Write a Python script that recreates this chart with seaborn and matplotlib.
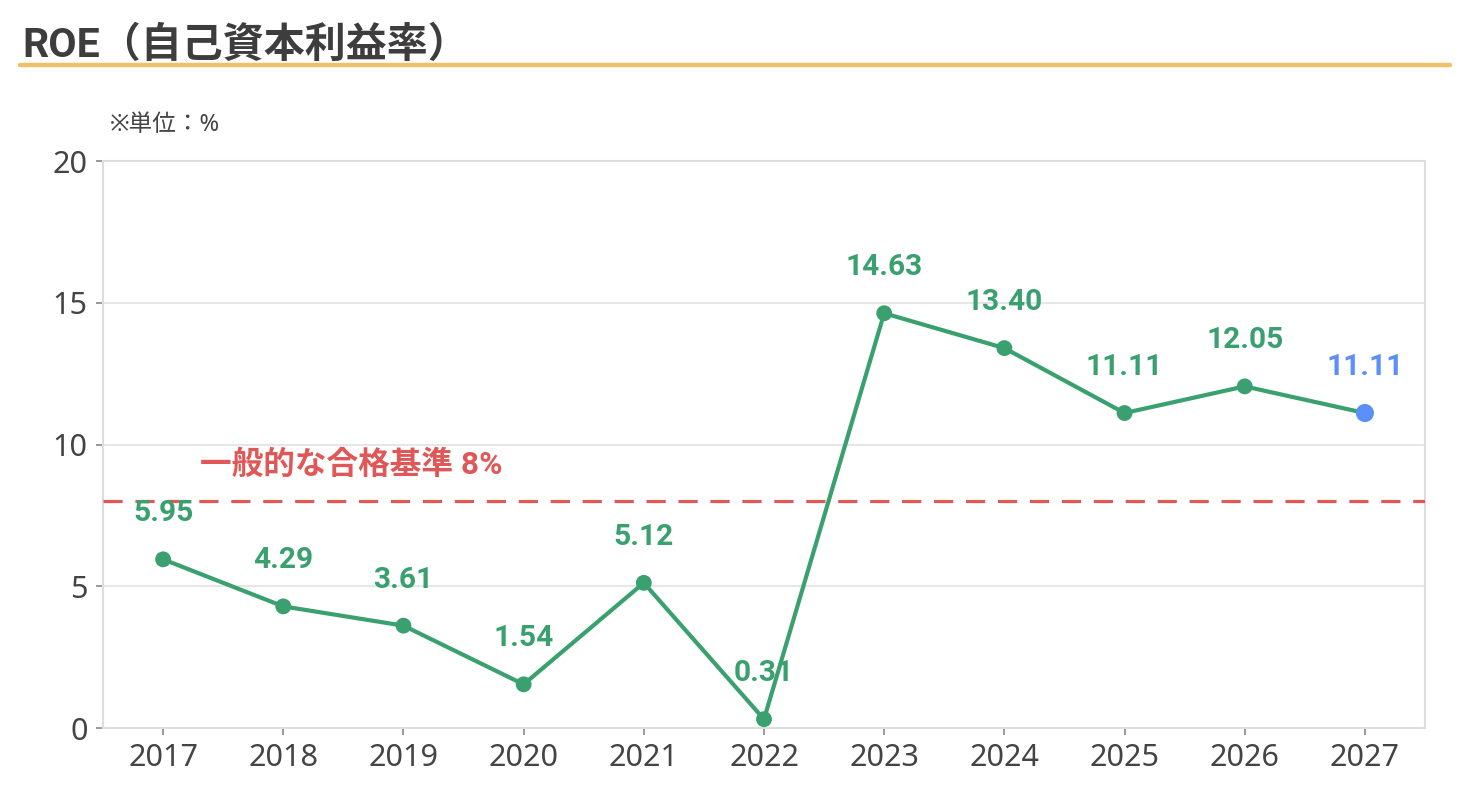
import matplotlib
matplotlib.use("Agg")
import matplotlib.pyplot as plt
import seaborn as sns
import pandas as pd

years = ["2017", "2018", "2019", "2020", "2021", "2022", "2023", "2024", "2025", "2026", "2027"]
roe = [5.95, 4.29, 3.61, 1.54, 5.12, 0.31, 14.63, 13.40, 11.11, 12.05, 11.11]
forecast_years = ["2027"]
threshold = 8
threshold_label = "一般的な合格基準 8%"
title = "ROE（自己資本利益率）"
unit_label = "※単位：%"
y_ticks = [0, 5, 10, 15, 20]

GREEN = "#3aa06f"
BLUE = "#5b8ff9"
RED = "#e05757"
TEXT = "#444444"

sns.set_theme(style="white")
plt.rcParams['font.family'] = ['Noto Sans', 'Noto Sans CJK JP', 'DejaVu Sans']
BOLD_FAMILY = ['Roboto', 'Noto Sans CJK JP', 'DejaVu Sans']

df = pd.DataFrame({"year": years, "roe": roe})
df["forecast"] = df["year"].isin(forecast_years)

fig = plt.figure(figsize=(14.7, 8.1), dpi=100)
ax = fig.add_axes([103/1470, 1-728/810, (1425-103)/1470, (728-161)/810])

sns.lineplot(data=df, x="year", y="roe", color=GREEN, linewidth=3, ax=ax, sort=False)
sns.scatterplot(data=df[~df["forecast"]], x="year", y="roe", color=GREEN, s=130,
                edgecolor="none", ax=ax, zorder=5)
sns.scatterplot(data=df[df["forecast"]], x="year", y="roe", color=BLUE, s=170,
                edgecolor="none", ax=ax, zorder=6)

for i, (y, v, f) in enumerate(zip(years, roe, df["forecast"])):
    ax.annotate(f"{v:.2f}", xy=(i, v), xytext=(0, 46), textcoords="offset pixels",
                ha="center", va="center", fontsize=21.5, fontweight="bold",
                family=BOLD_FAMILY, color=BLUE if f else GREEN, zorder=7)

ax.axhline(threshold, color=RED, linestyle=(0, (6, 4)), linewidth=2.3, zorder=3)
ax.annotate(threshold_label, xy=(0.073, threshold), xycoords=("axes fraction", "data"),
            xytext=(0, 36), textcoords="offset pixels", ha="left", va="center",
            fontsize=22.8, fontweight="bold", family=BOLD_FAMILY, color=RED)

ax.set_xlim(-0.5, len(years) - 0.5)
ax.set_ylim(0, 20)
ax.set_yticks(y_ticks)
ax.set_xlabel("")
ax.set_ylabel("")
ax.grid(axis="y", color="#e2e2e2", linewidth=1.2)
ax.set_axisbelow(True)
for s in ax.spines.values():
    s.set_color("#dddddd")
    s.set_linewidth(1.5)
ax.tick_params(axis="both", which="both", length=5, width=1.2, color="#888888",
               labelsize=22, labelcolor=TEXT, pad=6, left=True, bottom=True)

fig.text(22/1470, 1-45/810, title, fontsize=29.5, fontweight="bold", family=BOLD_FAMILY,
         color="#3d3d3d", ha="left", va="center")
fig.add_artist(plt.Line2D([20/1470, 1450/1470], [1-65/810, 1-65/810],
                          color="#f2c06b", linewidth=3.2, transform=fig.transFigure))
fig.text(110/1470, 1-125/810, unit_label, fontsize=17, color=TEXT, ha="left", va="center")

fig.savefig("out.png", dpi=100, facecolor="white")
